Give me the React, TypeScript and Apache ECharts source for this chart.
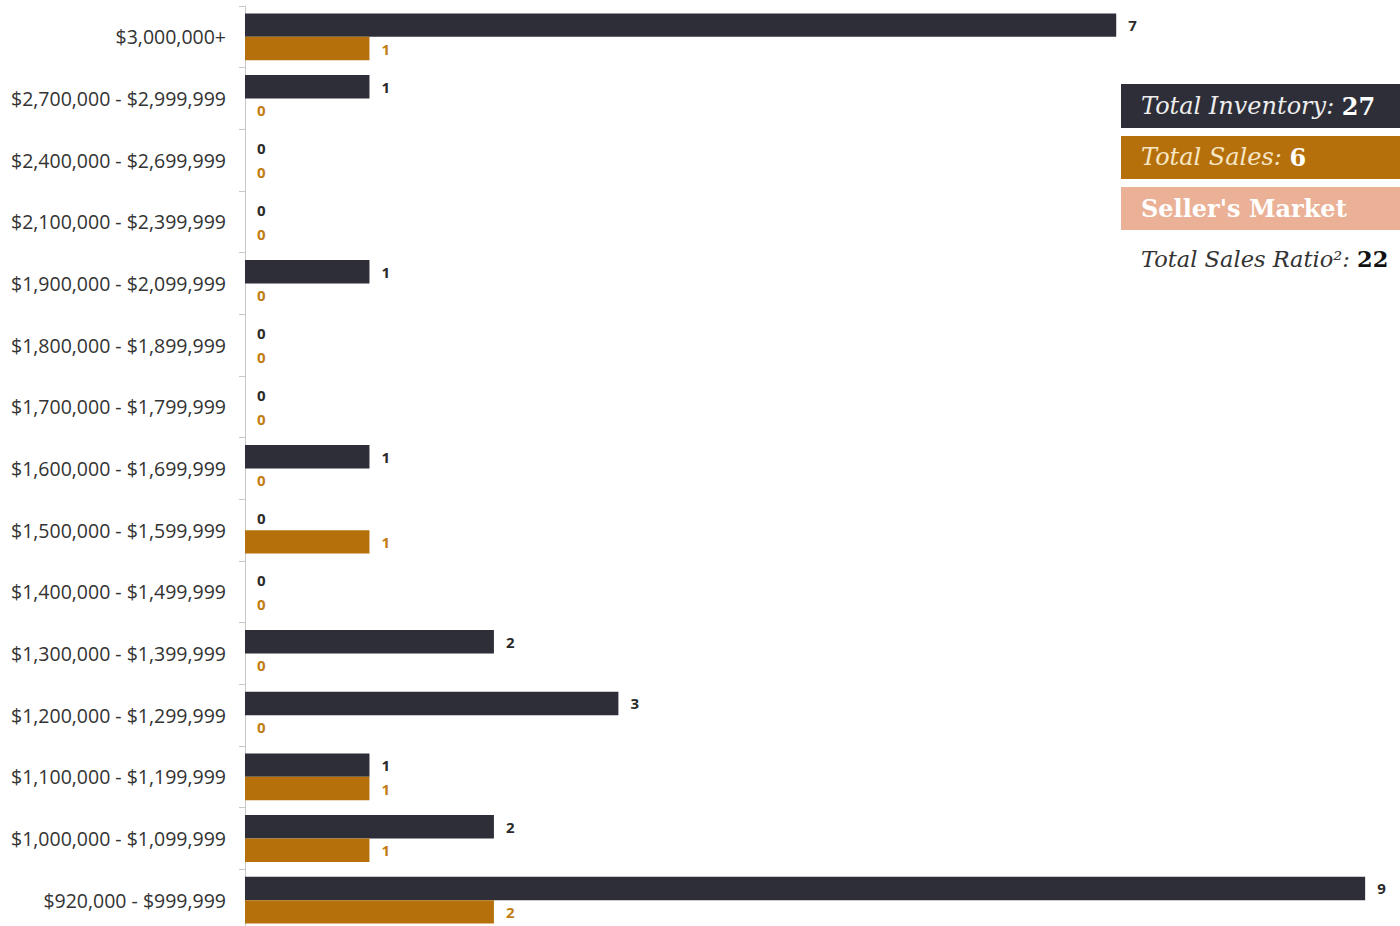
import React, { useEffect, useRef } from "react";
import * as echarts from "echarts";

const categories = [
  "$3,000,000+",
  "$2,700,000 - $2,999,999",
  "$2,400,000 - $2,699,999",
  "$2,100,000 - $2,399,999",
  "$1,900,000 - $2,099,999",
  "$1,800,000 - $1,899,999",
  "$1,700,000 - $1,799,999",
  "$1,600,000 - $1,699,999",
  "$1,500,000 - $1,599,999",
  "$1,400,000 - $1,499,999",
  "$1,300,000 - $1,399,999",
  "$1,200,000 - $1,299,999",
  "$1,100,000 - $1,199,999",
  "$1,000,000 - $1,099,999",
  "$920,000 - $999,999",
];
const inventory = [7, 1, 0, 0, 1, 0, 0, 1, 0, 0, 2, 3, 1, 2, 9];
const sales = [1, 0, 0, 0, 0, 0, 0, 0, 1, 0, 0, 0, 1, 1, 2];

const totalInventory = 27;
const totalSales = 6;
const marketLabel = "Seller's Market";
const totalSalesRatio = 22;

const DARK = "#2d2e38";
const ORANGE = "#b6700b";
const SALMON = "#eab196";

export default function App() {
  const ref = useRef<HTMLDivElement>(null);
  useEffect(() => {
    if (!ref.current) return;
    const chart = echarts.init(ref.current, null, { renderer: "svg" });
    const serif = "DejaVu Serif";
    const fs = 24;
    const fsRatio = 22.5;
    chart.setOption({
      animation: false,
      backgroundColor: "#ffffff",
      grid: { left: 245, top: 6, width: 1155, height: 925 },
      xAxis: {
        type: "value",
        min: 0,
        max: 9.28,
        show: false,
      },
      yAxis: {
        type: "category",
        data: categories,
        inverse: true,
        axisLine: { show: true, lineStyle: { color: "#c8c8c8", width: 1 } },
        axisTick: { show: true, length: 6, lineStyle: { color: "#c8c8c8" } },
        axisLabel: {
          margin: 19,
          fontFamily: "Open Sans",
          fontSize: 19.5,
          color: "#333333",
        },
      },
      series: [
        {
          type: "bar",
          data: inventory,
          barGap: "0%",
          barCategoryGap: "24%",
          itemStyle: { color: DARK },
          label: {
            show: true,
            position: "right",
            distance: 12,
            fontFamily: "Open Sans",
            fontWeight: "bold",
            fontSize: 15,
            color: "#2a2a2a",
          },
        },
        {
          type: "bar",
          data: sales,
          barGap: "0%",
          barCategoryGap: "24%",
          itemStyle: { color: ORANGE },
          label: {
            show: true,
            position: "right",
            distance: 12,
            fontFamily: "Open Sans",
            fontWeight: "bold",
            fontSize: 15,
            color: "#c27d12",
          },
        },
      ],
      graphic: [
        { type: "rect", left: 1121, top: 84, shape: { width: 300, height: 44 }, style: { fill: DARK } },
        { type: "rect", left: 1121, top: 136, shape: { width: 300, height: 43 }, style: { fill: ORANGE } },
        { type: "rect", left: 1121, top: 187, shape: { width: 300, height: 43 }, style: { fill: SALMON } },
        {
          type: "text",
          x: 1141,
          y: 106,
          style: {
            text: "{a|Total Inventory: }{b|" + totalInventory + "}",
            verticalAlign: "middle",
            rich: {
              a: { fontFamily: serif, fontStyle: "italic", fontSize: fs, fill: "#ededed", color: "#ededed" },
              b: { fontFamily: serif, fontWeight: "bold", fontSize: fs, fill: "#ffffff", color: "#ffffff" },
            },
          },
        },
        {
          type: "text",
          x: 1141,
          y: 157,
          style: {
            text: "{a|Total Sales: }{b|" + totalSales + "}",
            verticalAlign: "middle",
            rich: {
              a: { fontFamily: serif, fontStyle: "italic", fontSize: fs, fill: "#f6e6c4", color: "#f6e6c4" },
              b: { fontFamily: serif, fontWeight: "bold", fontSize: fs, fill: "#ffffff", color: "#ffffff" },
            },
          },
        },
        {
          type: "text",
          x: 1141,
          y: 208,
          style: {
            text: marketLabel,
            verticalAlign: "middle",
            fontFamily: serif,
            fontWeight: "bold",
            fontSize: fs,
            fill: "#ffffff",
          },
        },
        {
          type: "text",
          x: 1141,
          y: 259,
          style: {
            text: "{a|Total Sales Ratio²: }{b|" + totalSalesRatio + "}",
            verticalAlign: "middle",
            rich: {
              a: { fontFamily: serif, fontStyle: "italic", fontSize: fsRatio, fill: "#333333", color: "#333333" },
              b: { fontFamily: serif, fontWeight: "bold", fontSize: fsRatio, fill: "#111111", color: "#111111" },
            },
          },
        },
      ],
    });
    return () => chart.dispose();
  }, []);
  return (
    <div
      ref={ref}
      style={{ position: "fixed", left: 0, top: 0, width: 1400, height: 940, background: "#fff" }}
    />
  );
}
